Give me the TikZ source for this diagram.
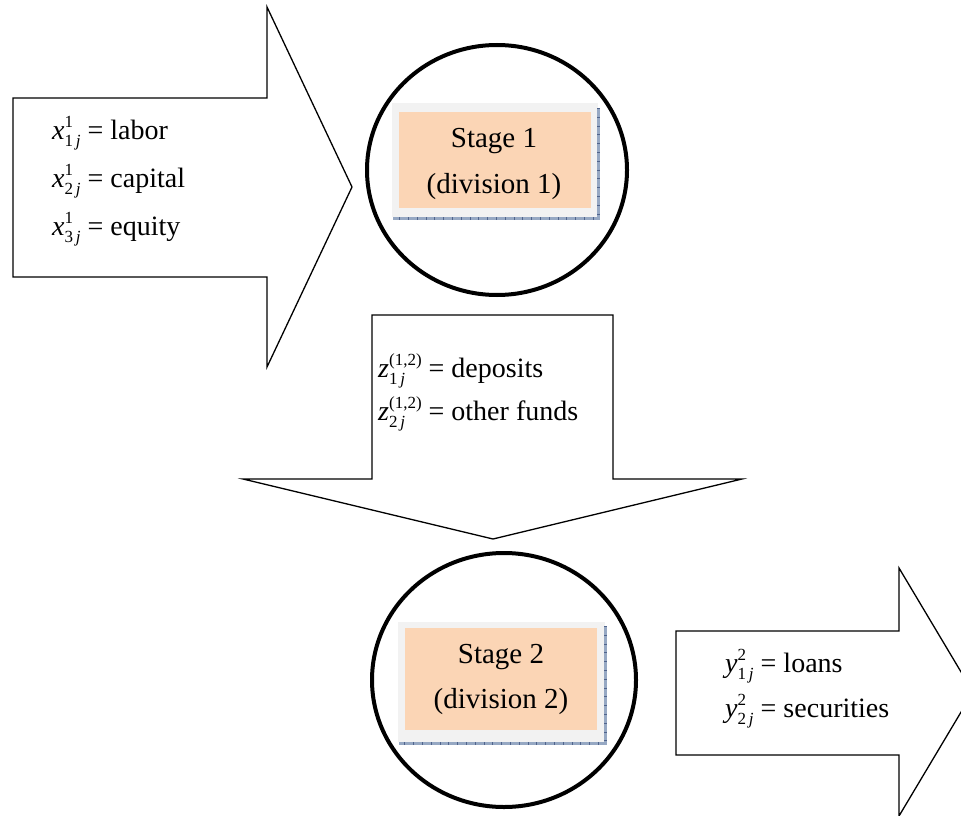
\documentclass[tikz,border=0pt]{standalone}
\usepackage{fontspec}
\setmainfont{Liberation Serif}
\definecolor{peach}{RGB}{251,213,181}
\definecolor{framegray}{RGB}{242,242,242}
\definecolor{edgeblue}{RGB}{150,168,195}
\definecolor{tickblue}{RGB}{80,100,140}
\newcommand{\scsz}{\fontsize{17}{17}\selectfont}
\newcommand{\subw}[2]{\makebox[0pt][l]{\raisebox{11.5pt}{\scsz #1}}\raisebox{-7pt}{\scsz #2}}
\newcommand{\supw}[2]{\makebox[0pt][l]{\raisebox{-7pt}{\scsz #2}}\raisebox{11.5pt}{\scsz #1}}
\tikzset{
  outline/.style={draw=black,line width=1.3pt,line join=miter,fill=white},
  stagering/.style={draw=black,line width=4pt},
  lbl/.style={anchor=base west,inner sep=0pt,font=\fontsize{28}{28}\selectfont},
  stagetxt/.style={anchor=base,inner sep=0pt,font=\fontsize{29}{29}\selectfont},
  framebox/.style={fill=framegray,draw=none},
  peachbox/.style={fill=peach,draw=none},
  edgeline/.style={draw=edgeblue,line width=3pt},
  tickline/.style={draw=tickblue,line width=3pt,dash pattern=on 0.8pt off 8pt}
}
\begin{document}
\begin{tikzpicture}[x=1pt,y=-1pt]
\useasboundingbox (0,0) rectangle (961,816);
\clip (0,0) rectangle (961,816);
% Arrow 1 (inputs)
\draw[outline] (13,98) -- (267,98) -- (267,7) -- (352,187) -- (267,367) -- (267,277) -- (13,277) -- cycle;
\node[lbl] (x1) at (52,139) {\textit{x}\subw{1}{1\,\textit{j}} = labor};
\node[lbl] (x2) at (52,187) {\textit{x}\subw{1}{2\,\textit{j}} = capital};
\node[lbl] (x3) at (52,235) {\textit{x}\subw{1}{3\,\textit{j}} = equity};
% Stage 1
\draw[stagering] (497,170) ellipse [x radius=130,y radius=125];
\fill[framebox] (392,103) rectangle (598,217);
\fill[peachbox] (399,112) rectangle (591,208);
\draw[edgeline] (598,108) -- (598,218) -- (393,218);
\draw[tickline] (598,108) -- (598,218) -- (393,218);
\node[stagetxt] (s1a) at (494,147) {Stage 1};
\node[stagetxt] (s1b) at (494,193) {(division 1)};
% Arrow 2 (intermediates)
\draw[outline] (372,315) -- (613,315) -- (613,479) -- (742,479) -- (493,539) -- (243,479) -- (372,479) -- cycle;
\node[lbl] (z1) at (378,377) {\textit{z}\supw{(1,2)}{1\,\textit{j}} = deposits};
\node[lbl] (z2) at (378,420) {\textit{z}\supw{(1,2)}{2\,\textit{j}} = other funds};
% Stage 2
\draw[stagering] (504,680) ellipse [x radius=132,y radius=127];
\fill[framebox] (398,622) rectangle (605,742);
\fill[peachbox] (405,628) rectangle (597,730);
\draw[edgeline] (605,626) -- (605,743) -- (399,743);
\draw[tickline] (605,626) -- (605,743) -- (399,743);
\node[stagetxt] (s2a) at (501,663) {Stage 2};
\node[stagetxt] (s2b) at (501,708) {(division 2)};
% Arrow 3 (outputs)
\draw[outline] (676,631) -- (899,631) -- (899,568) -- (973,692) -- (899,816) -- (899,755) -- (676,755) -- cycle;
\node[lbl] (y1) at (725,672) {\textit{y}\subw{2}{1\,\textit{j}} = loans};
\node[lbl] (y2) at (725,717) {\textit{y}\subw{2}{2\,\textit{j}} = securities};
\end{tikzpicture}
\end{document}
